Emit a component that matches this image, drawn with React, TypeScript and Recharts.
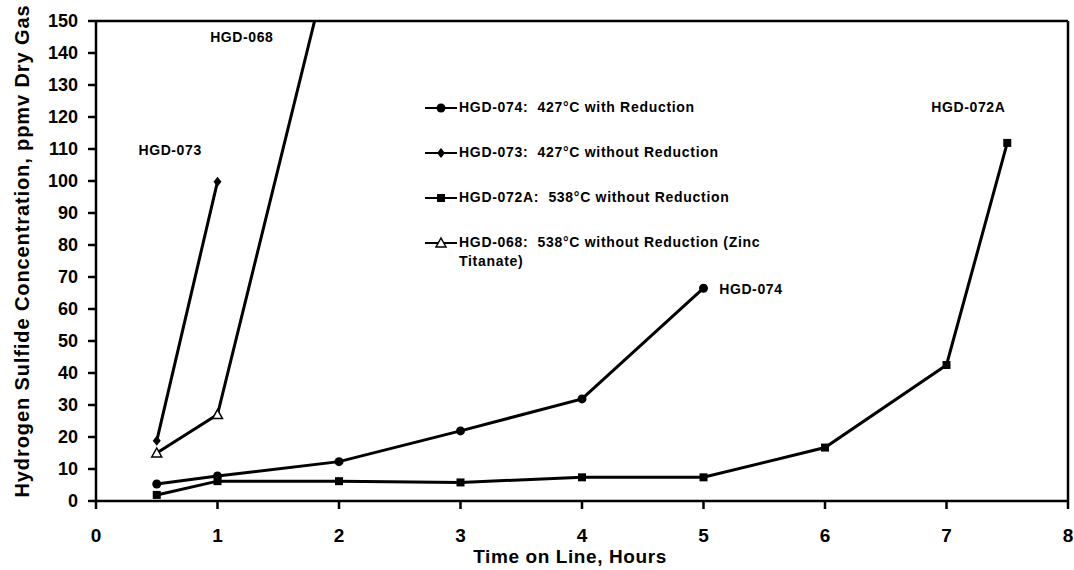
import React from "react";
import {
  LineChart,
  Line,
  XAxis,
  YAxis,
  ReferenceLine,
  ReferenceDot,
} from "recharts";

// time on line, hours
const hgd074 = [
  { t: 0.5, v: 5.3 },
  { t: 1, v: 7.8 },
  { t: 2, v: 12.3 },
  { t: 3, v: 21.9 },
  { t: 4, v: 31.9 },
  { t: 5, v: 66.5 },
];
const hgd073 = [
  { t: 0.5, v: 18.8 },
  { t: 1, v: 99.8 },
];
const hgd072A = [
  { t: 0.5, v: 1.9 },
  { t: 1, v: 6.2 },
  { t: 2, v: 6.2 },
  { t: 3, v: 5.8 },
  { t: 4, v: 7.4 },
  { t: 5, v: 7.4 },
  { t: 6, v: 16.7 },
  { t: 7, v: 42.5 },
  { t: 7.5, v: 111.9 },
];
const hgd068 = [
  { t: 0.5, v: 15 },
  { t: 1, v: 27 },
  { t: 2, v: 181 },
];

const xTicks = [0, 1, 2, 3, 4, 5, 6, 7, 8];
const yTicks = [0, 10, 20, 30, 40, 50, 60, 70, 80, 90, 100, 110, 120, 130, 140, 150];

const runLabels = [
  { name: "HGD-068", t: 1.2, v: 145 },
  { name: "HGD-073", t: 0.61, v: 109.7 },
  { name: "HGD-074", t: 5.39, v: 66.3 },
  { name: "HGD-072A", t: 7.18, v: 123 },
];

const legendLines = [
  { key: "circle", text: ["HGD-074:  427°C with Reduction"] },
  { key: "diamond", text: ["HGD-073:  427°C without Reduction"] },
  { key: "square", text: ["HGD-072A:  538°C without Reduction"] },
  { key: "triangle", text: ["HGD-068:  538°C without Reduction (Zinc", "Titanate)"] },
];

const FONT = "'Liberation Sans', Arial, sans-serif";

function Marker({ cx, cy, shape }: { cx: number; cy: number; shape: string }) {
  if (cx == null || cy == null) return null;
  if (shape === "circle") return <circle cx={cx} cy={cy} r={4.5} fill="#000" />;
  if (shape === "diamond")
    return (
      <polygon
        points={`${cx},${cy - 5} ${cx + 4},${cy} ${cx},${cy + 5} ${cx - 4},${cy}`}
        fill="#000"
      />
    );
  if (shape === "square")
    return <rect x={cx - 4} y={cy - 4} width={8} height={8} fill="#000" />;
  return (
    <polygon
      points={`${cx},${cy - 5} ${cx + 5},${cy + 4} ${cx - 5},${cy + 4}`}
      fill="#fff"
      stroke="#000"
      strokeWidth={1.5}
    />
  );
}

const dotFor = (shape: string) => (p: any) => (
  <Marker key={`${shape}-${p.index}`} cx={p.cx} cy={p.cy} shape={shape} />
);

function LegendBox() {
  return (
    <div
      style={{
        position: "absolute",
        left: 424,
        top: 99,
        fontFamily: FONT,
        fontWeight: 700,
        fontSize: 14,
        letterSpacing: 0.7,
        color: "#000",
      }}
    >
      {legendLines.map((l) => (
        <div key={l.key} style={{ display: "flex", alignItems: "flex-start", height: 45 }}>
          <svg width={34} height={18} style={{ flex: "none" }}>
            <line x1={1} y1={9} x2={33} y2={9} stroke="#000" strokeWidth={2} />
            <Marker cx={17} cy={9} shape={l.key} />
          </svg>
          <div style={{ lineHeight: "19px", marginTop: -1, marginLeft: 1 }}>
            {l.text.map((s) => (
              <div key={s} style={{ whiteSpace: "pre" }}>
                {s}
              </div>
            ))}
          </div>
        </div>
      ))}
    </div>
  );
}

const YTitle = () => (
  <text
    x={22}
    y={251}
    transform="rotate(-90, 22, 251)"
    textAnchor="middle"
    dominantBaseline="central"
    fontFamily={FONT}
    fontWeight={700}
    fontSize={20}
    letterSpacing={0.9}
    fill="#000"
  >
    Hydrogen Sulfide Concentration, ppmv Dry Gas
  </text>
);

export default function App() {
  const tickStyle = { fontSize: 19, fontWeight: 700, fill: "#000", fontFamily: FONT };
  return (
    <div style={{ position: "absolute", left: 0, top: 0, width: 1074, height: 570, background: "#fff" }}>
      <LineChart width={1074} height={570} margin={{ top: 21, right: 6, bottom: 0, left: 0 }}>
        <XAxis
          dataKey="t"
          type="number"
          domain={[0, 8]}
          ticks={xTicks}
          allowDataOverflow
          height={69}
          stroke="#000"
          strokeWidth={2.5}
          tickSize={8}
          tickMargin={20}
          tick={tickStyle}
          label={{
            value: "Time on Line, Hours",
            position: "insideBottom",
            offset: 0,
            dx: -12,
            dy: -7,
            style: { fontSize: 19, letterSpacing: 0.6, fontWeight: 700, fill: "#000", fontFamily: FONT },
          }}
        />
        <YAxis
          dataKey="v"
          type="number"
          domain={[0, 150]}
          ticks={yTicks}
          allowDataOverflow
          width={96}
          stroke="#000"
          strokeWidth={2.5}
          tickSize={8}
          tickMargin={10}
          tick={{ ...tickStyle, fontSize: 18 }}
          label={<YTitle />}
        />
        <ReferenceLine y={150} stroke="#000" strokeWidth={2.5} ifOverflow="visible" />
        <ReferenceLine x={8} stroke="#000" strokeWidth={2.5} ifOverflow="visible" />
        <Line data={hgd074} dataKey="v" stroke="#000" strokeWidth={3} dot={dotFor("circle")} isAnimationActive={false} />
        <Line data={hgd073} dataKey="v" stroke="#000" strokeWidth={3} dot={dotFor("diamond")} isAnimationActive={false} />
        <Line data={hgd072A} dataKey="v" stroke="#000" strokeWidth={3} dot={dotFor("square")} isAnimationActive={false} />
        <Line data={hgd068} dataKey="v" stroke="#000" strokeWidth={3} dot={dotFor("triangle")} isAnimationActive={false} />
        {runLabels.map((r) => (
          <ReferenceDot
            key={r.name}
            x={r.t}
            y={r.v}
            r={0}
            fill="none"
            stroke="none"
            label={{
              value: r.name,
              position: "center",
              style: { fontSize: 14, letterSpacing: 0.6, fontWeight: 700, fill: "#000", fontFamily: FONT },
            }}
          />
        ))}
      </LineChart>
      <LegendBox />
    </div>
  );
}
